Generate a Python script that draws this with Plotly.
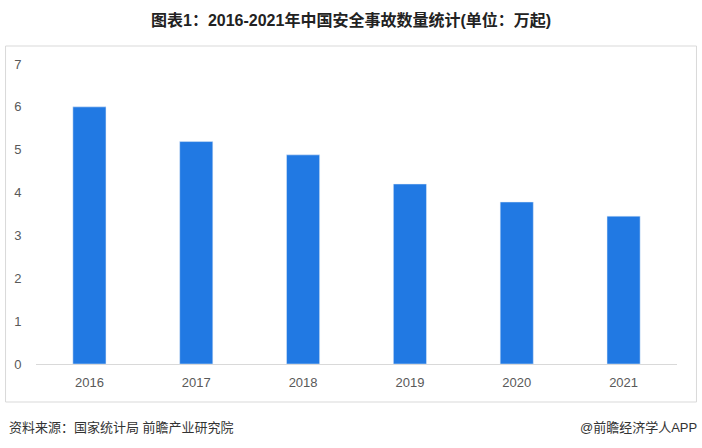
import plotly.graph_objects as go

years = ["2016", "2017", "2018", "2019", "2020", "2021"]
accidents = [6.0, 5.19, 4.88, 4.2, 3.78, 3.45]
y_ticks = [0, 1, 2, 3, 4, 5, 6, 7]

W, H = 702, 448
L, R, T, B = 35.5, 677.5, 64, 364
pw, ph = R - L, B - T

def px(x):
    return (x - L) / pw

def py(y):
    return (B - y) / ph

font = "Liberation Sans, Noto Sans CJK SC, sans-serif"

fig = go.Figure(go.Bar(x=years, y=accidents, marker_color="#2179E3", width=0.31))

fig.update_layout(
    width=W, height=H,
    margin=dict(l=L, r=W - R, t=T, b=H - B),
    plot_bgcolor="white", paper_bgcolor="white",
    showlegend=False,
    font=dict(family=font, color="#595959", size=13),
    xaxis=dict(showline=True, linecolor="#D9D9D9", linewidth=1, ticks="outside",
               ticklen=6, tickcolor="rgba(0,0,0,0)",
               tickfont=dict(size=13, color="#595959"), showgrid=False),
    yaxis=dict(range=[0, 7], tickvals=y_ticks, showgrid=False, zeroline=False,
               showline=False, ticks="outside", ticklen=11, tickcolor="rgba(0,0,0,0)",
               tickfont=dict(size=13, color="#595959")),
    shapes=[dict(type="rect", xref="paper", yref="paper",
                 x0=px(5), x1=px(697), y0=py(402), y1=py(46),
                 line=dict(color="#D9D9D9", width=1), layer="below")],
    annotations=[
        dict(text="<b>图表1：2016-2021年中国安全事故数量统计(单位：万起)</b>",
             xref="paper", yref="paper", x=px(351), y=py(20), showarrow=False,
             xanchor="center", yanchor="middle",
             font=dict(size=16, color="#222222", family=font)),
        dict(text="资料来源：国家统计局 前瞻产业研究院",
             xref="paper", yref="paper", x=px(6), y=py(427), showarrow=False,
             xanchor="left", yanchor="middle",
             font=dict(size=13, color="#333333", family=font)),
        dict(text="@前瞻经济学人APP",
             xref="paper", yref="paper", x=px(700), y=py(427), showarrow=False,
             xanchor="right", yanchor="middle",
             font=dict(size=13, color="#333333", family=font)),
    ],
)

fig.write_html(
    "out.html",
    config={"displayModeBar": False},
    post_script="document.body.style.margin='0';document.body.style.overflow='hidden';",
)
